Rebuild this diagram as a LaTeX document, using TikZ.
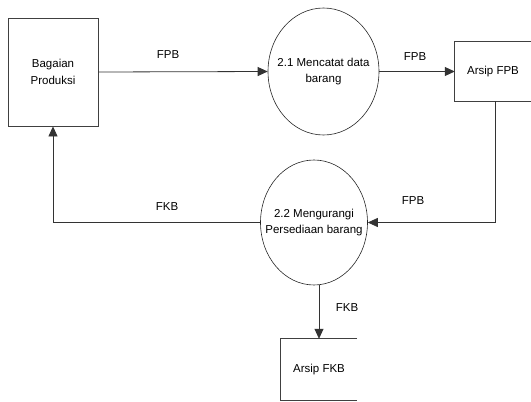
\documentclass[tikz,border=0pt]{standalone}
\usepackage{fontspec}
\setmainfont{Liberation Sans}
\usetikzlibrary{shapes.geometric,arrows.meta}

\tikzset{
    flow/.style={line width=0.8pt, draw=black!80, -{Triangle[length=10pt,width=9pt]}},
    entity/.style={draw=black!75, line width=0.8pt, rectangle, align=center},
    process/.style={draw=black!85, line width=0.6pt, ellipse, inner sep=0pt},
    proctext/.style={align=center, inner sep=0pt},
    store/.style={rectangle, align=center, inner sep=0pt},
    lbl/.style={inner sep=0pt}
}

\begin{document}
\begin{tikzpicture}[x=1pt, y=-1pt, font=\fontsize{11.5}{16.5}\selectfont]
    \useasboundingbox (0, 0) rectangle (531, 402);

    % External entity
    \node[entity, minimum width=90pt, minimum height=108pt] (prod) at (53, 72) {Bagaian\\Produksi};

    % Processes
    \node[process, minimum width=111pt, minimum height=127pt] (p21) at (323.5, 71.5) {};
    \node[proctext] (t21) at (p21.center) {2.1 Mencatat data\\barang};
    \node[process, minimum width=107pt, minimum height=125pt] (p22) at (314, 222.5) {};
    \node[proctext] (t22) at (p22.center) {2.2 Mengurangi\\Persediaan barang};

    % Data stores (open on the right)
    \node[store, minimum width=76pt, minimum height=59pt] (afpb) at (493, 71.5) {Arsip FPB};
    \draw[line width=0.8pt, draw=black!75] (afpb.north east) -- (afpb.north west) -- (afpb.south west) -- (afpb.south east);
    \node[store, minimum width=76pt, minimum height=61pt] (afkb) at (319, 369.5) {Arsip FKB};
    \draw[line width=0.8pt, draw=black!75] (afkb.north east) -- (afkb.north west) -- (afkb.south west) -- (afkb.south east);

    % Flows
    \draw[flow] (prod.east) -- (p21.west);
    \draw[flow] (p21.east) -- (afpb.west);
    \draw[flow] ([xshift=2pt]afpb.south) |- (p22.east);
    \draw[flow] (p22.west) -| (prod.south);
    \draw[flow] (afkb.north |- p22.south) -- (afkb.north);

    % Flow labels
    \node[lbl] (l1) at (168, 55) {FPB};
    \node[lbl] (l2) at (415, 57) {FPB};
    \node[lbl] (l3) at (167, 207) {FKB};
    \node[lbl] (l4) at (413, 201) {FPB};
    \node[lbl] (l5) at (347, 308) {FKB};
\end{tikzpicture}
\end{document}
